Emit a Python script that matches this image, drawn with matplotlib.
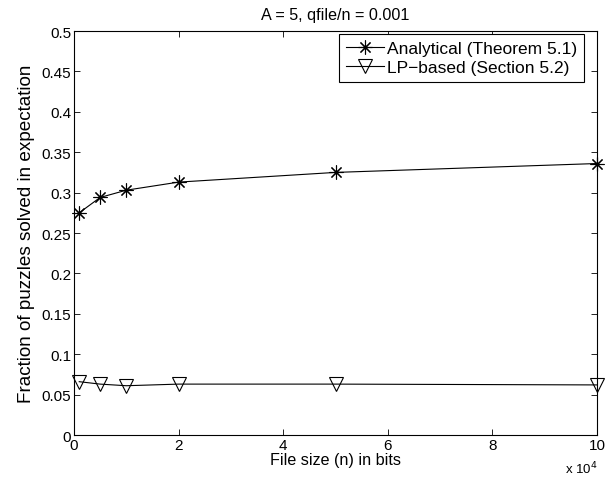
import numpy as np
from matplotlib import pyplot as plt

plt.rcParams['font.family'] = ['Liberation Sans', 'DejaVu Sans']
plt.rcParams['font.size'] = 11

file_size = [1000, 5000, 10000, 20000, 50000, 100000]  # bits
analytical = [0.275, 0.294, 0.303, 0.313, 0.325, 0.336]
lp_based = [0.066, 0.063, 0.061, 0.063, 0.063, 0.062]

x_ticks = [0, 2, 4, 6, 8, 10]
y_ticks = [0, 0.05, 0.1, 0.15, 0.2, 0.25, 0.3, 0.35, 0.4, 0.45, 0.5]
y_labels = ["0", "0.05", "0.1", "0.15", "0.2", "0.25", "0.3", "0.35", "0.4", "0.45", "0.5"]

xs = np.array(file_size) / 1e4

fig = plt.figure(figsize=(6.05, 4.85), dpi=100)
ax = fig.add_axes([0.1223, 0.101, 0.8645, 0.833])

ax.plot(xs, analytical, color="k", lw=0.8, marker=(8, 2, 0), ms=10,
        mew=0.8, label="Analytical (Theorem 5.1)", clip_on=False)
ax.plot(xs, lp_based, color="k", lw=0.8, marker="v", ms=10, mfc="none",
        mew=0.8, label="LP\u2212based (Section 5.2)", clip_on=False)

ax.set_xlim(0, 10)
ax.set_ylim(0, 0.5)
ax.set_xticks(x_ticks)
ax.set_xticklabels([str(t) for t in x_ticks])
ax.set_yticks(y_ticks)
ax.set_yticklabels(y_labels)
ax.tick_params(direction="in", top=True, right=True, length=4, width=0.6, pad=2)
for sp in ax.spines.values():
    sp.set_linewidth(0.8)

ax.set_xlabel("File size (n) in bits", fontsize=11.6, labelpad=0)
ax.set_ylabel("Fraction of puzzles solved in expectation", fontsize=13.6, labelpad=5)
ax.set_title("A = 5, qfile/n = 0.001", fontsize=11.6, pad=9)
ax.text(1.0, -0.06, r"x 10$^{4}$", transform=ax.transAxes, ha="right",
        va="top", fontsize=9.5)

leg = ax.legend(loc="upper right", bbox_to_anchor=(0.975, 0.993),
                fancybox=False, framealpha=1, edgecolor="k", fontsize=12.5,
                handlelength=2.2, handletextpad=0.15, borderpad=0.4,
                labelspacing=0.25, borderaxespad=0)
leg.get_frame().set_linewidth(0.8)

fig.savefig("out.png", dpi=100)
